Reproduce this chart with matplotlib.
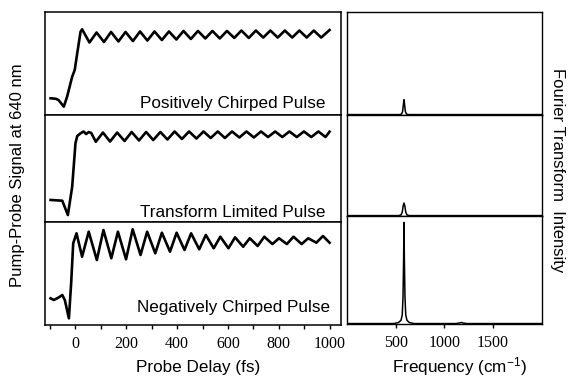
import matplotlib
matplotlib.use("Agg")
import matplotlib.pyplot as plt

plt.rcParams["mathtext.fontset"] = "custom"
plt.rcParams["mathtext.rm"] = "Liberation Sans"

# ---- pump-probe traces (arbitrary units, 0-100 per panel) ----
# positively chirped pulse
t1_onset = [-98, -78, -67, -46, -33, -13, -3, 7, 20]
v1_onset = [16.2, 15.8, 14.6, 8.1, 17.8, 37.2, 43.7, 60.2, 80.9]
t1_peak = [26, 83, 140, 197, 254, 311, 368, 425, 482, 539, 596, 653, 710, 767, 824, 881, 938]
v1_peak = [83.2, 80.1, 80.6, 80.6, 81.1, 81.1, 81.1, 81.6, 81.6, 81.6, 81.6, 82.0, 82.0, 82.0, 82.0, 82.0, 82.0]
t1_trough = [55, 112, 169, 226, 283, 340, 397, 454, 511, 568, 625, 682, 739, 796, 853, 910, 967]
v1_trough = [70.4, 70.9, 71.4, 71.8, 72.3, 72.8, 73.3, 73.8, 74.3, 74.3, 74.8, 74.8, 75.2, 75.2, 75.2, 75.2, 75.2]
t1_end, v1_end = 1000, 82.5

# transform limited pulse
t2_onset = [-98, -52, -30, -13, 0, 7, 20, 32, 42, 52, 62]
v2_onset = [20.6, 19.9, 6.5, 33.0, 73.8, 80.4, 82.9, 84.6, 82.2, 84.1, 83.2]
t2_trough = [80, 136, 193, 250, 306, 362, 419, 476, 532, 588, 645, 702, 758, 814, 871, 928, 984]
v2_trough = [75.0, 75.2, 75.7, 76.2, 76.6, 77.1, 77.6, 78.0, 78.5, 78.5, 79.0, 79.0, 79.4, 79.4, 79.4, 79.4, 79.4]
t2_peak = [108, 164, 221, 278, 334, 390, 447, 504, 560, 616, 673, 730, 786, 842, 899, 956]
v2_peak = [83.6, 83.6, 84.1, 84.1, 84.1, 84.6, 84.6, 84.6, 84.6, 84.6, 84.6, 84.6, 84.6, 84.6, 84.6, 84.6]
t2_end, v2_end = 1000, 84.4

# negatively chirped pulse
t3_onset = [-98, -85, -65, -52, -42, -26, -17, -9, 4]
v3_onset = [25.9, 24.3, 26.9, 29.1, 24.3, 6.5, 40.8, 79.3, 89.0]
t3_trough = [26, 84, 141, 199, 256, 314, 372, 429, 487, 544, 602, 660, 717, 775, 832, 890, 948]
v3_trough = [66.3, 63.1, 64.8, 63.8, 68.0, 69.6, 71.2, 72.8, 73.5, 74.5, 74.5, 76.0, 76.7, 78.6, 78.6, 78.6, 79.9]
t3_peak = [52, 110, 167, 225, 282, 340, 398, 455, 513, 570, 628, 686, 743, 801, 858, 916, 974]
v3_peak = [90.6, 92.2, 90.6, 92.9, 90.6, 89.6, 89.6, 89.0, 87.4, 85.7, 85.1, 84.2, 85.7, 84.2, 85.7, 84.2, 86.4]
t3_end, v3_end = 1000, 79.9

# ---- Fourier transform spectra ----
f1 = [0, 540, 560, 572, 580, 586, 592, 600, 612, 630, 2000]
s1 = [0, 0, 0.5, 3, 10, 14.5, 10, 3, 0.5, 0, 0]
f2 = [0, 530, 555, 568, 578, 586, 594, 604, 617, 640, 2000]
s2 = [0, 0, 0.6, 3.5, 10, 12.5, 10, 3.5, 0.6, 0, 0]
f3 = [0, 480, 530, 555, 568, 576, 582, 586, 590, 596, 604, 617, 640, 690, 1120, 1160, 1175, 1190, 1230, 2000]
s3 = [0, 0, 1, 3, 8, 25, 60, 94, 60, 25, 8, 3, 1, 0, 0, 0.6, 1, 0.6, 0, 0]

labels = ["Positively Chirped Pulse", "Transform Limited Pulse", "Negatively Chirped Pulse"]
delay_ticks = [0, 200, 400, 600, 800, 1000]
delay_minor = [-100, 100, 300, 500, 700, 900]
freq_ticks = [500, 1000, 1500]


def merge(t_on, v_on, ta, va, tb, vb, t_end, v_end):
    pts = list(zip(t_on, v_on)) + list(zip(ta, va)) + list(zip(tb, vb)) + [(t_end, v_end)]
    pts.sort()
    return [p[0] for p in pts], [p[1] for p in pts]


traces = [
    merge(t1_onset, v1_onset, t1_peak, v1_peak, t1_trough, v1_trough, t1_end, v1_end),
    merge(t2_onset, v2_onset, t2_peak, v2_peak, t2_trough, v2_trough, t2_end, v2_end),
    merge(t3_onset, v3_onset, t3_peak, v3_peak, t3_trough, v3_trough, t3_end, v3_end),
]
spectra = [(f1, s1), (f2, s2), (f3, s3)]

W, H = 570.0, 377.0
fig = plt.figure(figsize=(5.7, 3.77), dpi=100)

sans = "Liberation Sans"
serif = "Liberation Serif"

left_rows = [(12, 115), (115, 222), (222, 325)]
right_rows = [(12, 115), (115, 216), (216, 324)]
label_y = [0.065, 0.044, 0.13]
label_x = [0.946, 0.946, 0.963]

for i in range(3):
    top, bot = left_rows[i]
    ax = fig.add_axes([45 / W, (H - bot) / H, 296 / W, (bot - top) / H])
    t, v = traces[i]
    ax.plot(t, v, color="black", lw=1.9, solid_joinstyle="round")
    ax.set_xlim(-120, 1045)
    ax.set_ylim(0, 100)
    ax.set_yticks([])
    for s in ax.spines.values():
        s.set_linewidth(1.1)
    ax.text(label_x[i], label_y[i], labels[i], transform=ax.transAxes, ha="right",
            va="baseline", fontsize=12.3, family=sans)
    if i < 2:
        ax.set_xticks([])
    else:
        ax.set_xticks(delay_ticks)
        ax.set_xticks(delay_minor, minor=True)
        ax.tick_params(axis="x", which="both", direction="out", length=3, width=1, pad=5)
        for lab in ax.get_xticklabels():
            lab.set_family(serif)
            lab.set_fontsize(11.5)

    top, bot = right_rows[i]
    ax2 = fig.add_axes([347 / W, (H - bot) / H, 194.5 / W, (bot - top) / H])
    f, s = spectra[i]
    ax2.plot(f, s, color="black", lw=1.1)
    ax2.set_xlim(0, 2000)
    ax2.set_ylim(-0.4, 100)
    ax2.set_yticks([])
    for sp in ax2.spines.values():
        sp.set_linewidth(1.0)
    if i < 2:
        ax2.set_xticks([])
    else:
        ax2.set_xticks(freq_ticks)
        ax2.tick_params(axis="x", direction="out", length=3, width=1, pad=5)
        for lab in ax2.get_xticklabels():
            lab.set_family(serif)
            lab.set_fontsize(11.5)

fig.text(198 / W, 1 - 372 / H, "Probe Delay (fs)", ha="center", va="baseline", fontsize=12.3, family=sans)
fig.text(460 / W, 1 - 372 / H, r"Frequency (cm$\mathregular{^{-1}}$)", ha="center", va="baseline",
         fontsize=12.3, family=sans)
fig.text(18 / W, 1 - 175 / H, "Pump-Probe Signal at 640 nm", rotation=90, ha="center", va="center",
         fontsize=12, family=sans)
fig.text(557 / W, 1 - 170 / H, "Fourier Transform  Intensity", rotation=-90, ha="center", va="center",
         fontsize=12, family=sans)

fig.savefig("out.png", dpi=100)
